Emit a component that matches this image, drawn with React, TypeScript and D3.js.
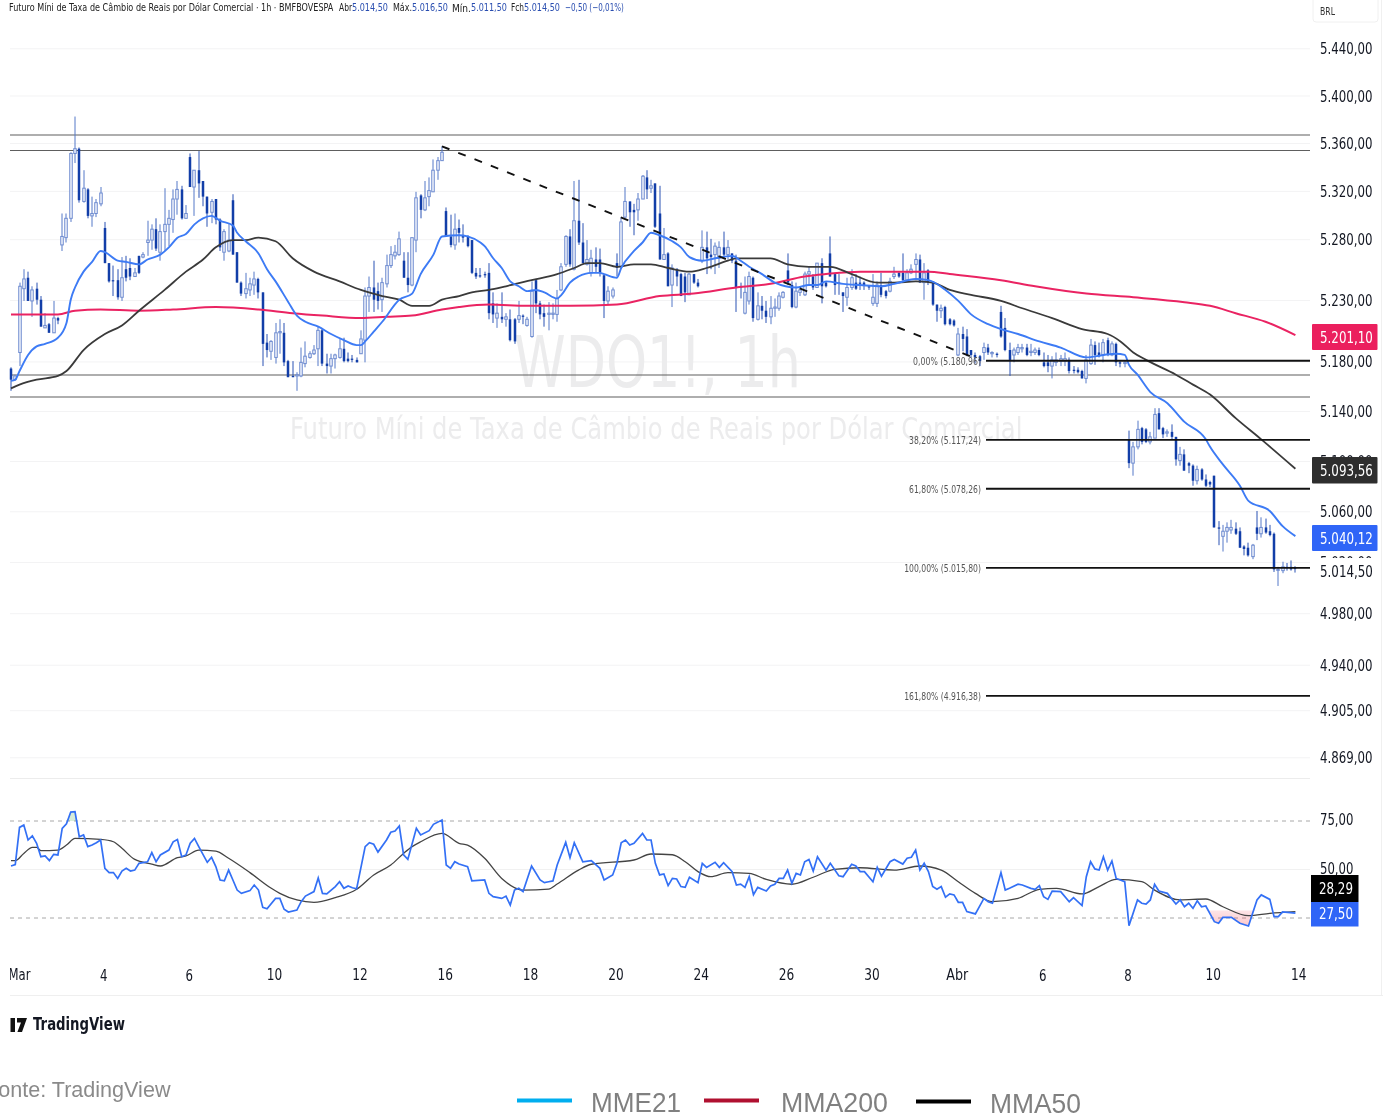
import React from "react";
import * as d3 from "d3";

const HIGHS = [
5175,5169,5244,5255,5253,5241,5244,5233,5219,5211,
5229,5216,5301,5301,5352,5382,5356,5337,5322,5315,
5313,5323,5294,5260,5258,5255,5265,5266,5264,5256,
5266,5269,5295,5292,5297,5292,5322,5304,5321,5328,
5324,5308,5351,5337,5353,5328,5315,5313,5313,5297,
5288,5293,5317,5269,5245,5252,5248,5253,5248,5236,
5202,5197,5211,5214,5211,5181,5180,5171,5191,5196,
5188,5193,5208,5206,5186,5186,5186,5198,5199,5187,
5185,5183,5205,5240,5249,5262,5244,5248,5267,5274,
5275,5286,5269,5269,5281,5319,5317,5328,5331,5346,
5348,5357,5306,5300,5301,5296,
5292,5283,5279,5256,5256,5253,5260,5236,5227,5236,
5219,5222,5215,5229,5218,5216,5245,5247,5229,5226,
5228,5227,5238,5260,5283,5288,5328,5329,5293,5279,
5271,5273,5272,5251,5241,5240,5268,5298,5323,5311,
5309,5318,5333,5337,5329,5326,5324,5289,5269,5259,
5256,5252,5252,5252,5251,5247,5287,5286,5280,5277,
5278,5286,5279,5268,5267,5244,5249,5253,5249,5236,
5233,5229,5233,5231,5236,5237,5268,5245,5244,5241,
5253,5257,5251,5260,5264,5245,5282,5252,5251,5236,
5248,5255,5251,5249,5245,5242,5251,5245,5252,5238,
5248,5257,5253,
5268,5255,5259,5268,5267,5260,5255,5245,5226,5226,
5225,5215,5214,5207,5208,5206,5189,5187,5185,5195,
5194,5188,5187,5225,5215,5195,5191,5194,5194,5194,
5194,5191,5191,5187,5185,5184,5187,5185,5187,5183,
5176,5175,5173,5185,
5198,5196,5195,5198,5199,5196,5195,5180,5180,
5124,5115,5132,5127,5126,5123,5142,5142,5127,5125,
5129,5119,5111,5109,5099,5097,5096,5094,5089,5084,
5088,5052,5049,5051,5053,5051,5047,5033,5035,5034,
5060,5055,5054,5049,5043,5016,5020,5019,5021,5016.5];

const LOWS = [
5156,5164,5176,5229,5229,5216,5226,5208,5207,5203,
5203,5210,5270,5277,5294,5343,5310,5310,5297,5290,
5298,5307,5260,5244,5233,5230,5229,5245,5246,5249,
5251,5264,5266,5271,5270,5262,5270,5274,5285,5300,
5296,5297,5323,5299,5314,5307,5290,5293,5292,5270,
5262,5269,5267,5244,5233,5231,5233,5234,5231,5176,
5183,5181,5178,5186,5176,5167,5167,5156,5167,5175,
5182,5185,5176,5176,5170,5170,5174,5182,5179,5179,
5179,5179,5186,5179,5220,5220,5222,5220,5240,5256,
5263,5266,5248,5236,5241,5269,5297,5303,5307,5319,
5329,5345,5282,5273,5271,5277,
5277,5273,5251,5247,5248,5248,5214,5211,5207,5211,
5208,5196,5194,5211,5210,5208,5199,5219,5214,5208,
5205,5214,5212,5237,5257,5257,5254,5275,5260,5258,
5249,5252,5249,5215,5226,5231,5249,5256,5297,5290,
5283,5295,5313,5313,5318,5289,5263,5263,5241,5224,
5241,5233,5228,5234,5243,5240,5260,5251,5255,5251,
5256,5264,5263,5260,5220,5231,5218,5226,5212,5213,
5214,5211,5210,5216,5221,5231,5242,5223,5223,5233,
5233,5242,5238,5240,5227,5240,5249,5234,5234,5220,
5225,5238,5238,5238,5238,5238,5225,5224,5232,5231,
5236,5247,5248,
5245,5245,5251,5246,5244,5230,5242,5225,5212,5215,
5209,5209,5208,5184,5188,5184,5183,5178,5176,5181,
5185,5183,5183,5199,5188,5168,5179,5185,5187,5184,
5184,5185,5184,5175,5171,5166,5176,5176,5176,5170,
5170,5170,5166,5162,5177,5177,5183,5179,5184,5184,
5176,5175,5175,
5094,5088,5109,5113,5114,5113,5118,5125,5118,5119,
5117,5096,5096,5092,5090,5080,5081,5084,5079,5079,
5047,5033,5028,5035,5042,5041,5031,5025,5024,5022,
5037,5039,5042,5040,5012,5001,5011,5013,5013,5011.5];

const OPENS = [
5174,5165,5187,5239,5248,5229,5239,5230,5207,5210,
5203,5215,5275,5281,5297,5351,5355,5311,5321,5299,
5301,5309,5289,5260,5246,5246,5232,5255,5256,5249,
5266,5265,5277,5279,5288,5269,5286,5292,5296,5313,
5321,5297,5348,5323,5337,5328,5315,5302,5313,5296,
5269,5270,5312,5269,5244,5235,5238,5242,5247,5236,
5195,5188,5183,5203,5203,5180,5168,5168,5168,5178,
5183,5186,5190,5205,5178,5176,5182,5183,5190,5182,
5182,5181,5186,5197,5233,5240,5237,5230,5243,5258,
5266,5267,5262,5248,5242,5279,5316,5304,5315,5319,
5337,5345,5303,5282,5275,5289,
5283,5282,5279,5252,5250,5251,5252,5227,5215,5216,
5214,5214,5214,5214,5217,5209,5200,5246,5227,5219,
5218,5218,5218,5238,5259,5282,5255,5295,5277,5259,
5252,5263,5263,5250,5229,5233,5260,5257,5298,5311,
5304,5304,5313,5331,5322,5326,5301,5263,5268,5242,
5255,5251,5249,5234,5251,5244,5262,5273,5267,5267,
5264,5273,5267,5268,5262,5241,5219,5229,5248,5214,
5225,5221,5216,5223,5223,5232,5254,5242,5224,5236,
5234,5251,5249,5240,5260,5244,5268,5251,5244,5236,
5232,5240,5244,5244,5244,5241,5227,5227,5242,5237,
5237,5249,5252,
5252,5246,5252,5259,5263,5244,5254,5245,5226,5221,
5224,5214,5213,5185,5202,5200,5189,5185,5184,5187,
5191,5186,5186,5220,5207,5189,5185,5187,5190,5191,
5187,5187,5189,5179,5179,5176,5179,5180,5180,5181,
5173,5173,5172,5166,5178,5193,5187,5185,5197,5185,
5194,5179,5178,
5117,5098,5111,5126,5125,5115,5118,5138,5126,5122,
5123,5119,5100,5105,5098,5096,5084,5093,5085,5083,
5088,5047,5040,5044,5045,5046,5044,5032,5031,5024,
5047,5042,5047,5044,5042,5014,5013,5016,5016,5015];

const CLOSES = [
5165,5168,5241,5247,5229,5238,5230,5208,5209,5203,
5215,5213,5282,5297,5351,5355,5312,5322,5299,5301,
5310,5318,5260,5245,5245,5232,5248,5248,5249,5252,
5252,5267,5279,5288,5272,5286,5292,5297,5313,5321,
5297,5301,5323,5337,5326,5315,5301,5311,5296,5273,
5286,5279,5267,5244,5235,5239,5243,5247,5236,5194,
5189,5196,5203,5204,5179,5167,5167,5169,5179,5184,
5186,5189,5205,5178,5176,5182,5185,5190,5180,5180,
5181,5179,5198,5233,5240,5230,5229,5244,5258,5267,
5269,5280,5248,5242,5281,5314,5304,5314,5320,5337,
5345,5352,5282,5275,5288,5285,
5281,5274,5252,5249,5249,5250,5219,5218,5219,5214,
5216,5197,5196,5217,5216,5214,5237,5227,5218,5216,
5219,5219,5231,5257,5282,5259,5295,5277,5260,5263,
5264,5257,5252,5229,5237,5238,5256,5294,5311,5302,
5302,5313,5332,5321,5324,5290,5263,5267,5241,5256,
5249,5233,5236,5251,5244,5241,5273,5264,5265,5274,
5273,5267,5273,5262,5240,5240,5236,5249,5215,5225,
5221,5216,5223,5224,5233,5236,5244,5224,5237,5238,
5251,5253,5240,5260,5241,5241,5249,5242,5243,5233,
5240,5248,5239,5243,5242,5240,5232,5242,5234,5233,
5245,5251,5249,
5246,5252,5255,5263,5244,5252,5244,5226,5221,5223,
5210,5210,5209,5202,5198,5185,5185,5183,5180,5191,
5187,5187,5185,5200,5189,5181,5189,5191,5191,5185,
5188,5189,5185,5176,5176,5181,5181,5182,5182,5172,
5172,5171,5166,5181,5193,5185,5184,5195,5185,5194,
5179,5178,5179,
5098,5111,5125,5115,5115,5119,5137,5125,5121,5123,
5119,5101,5105,5092,5096,5084,5093,5085,5080,5081,
5047,5046,5044,5047,5047,5042,5031,5030,5025,5033,
5042,5047,5043,5041,5014,5014,5016,5015,5014,5014.5];

const EMA_BARS = [0,1,2,4,6,8,11,13,14,15,17,19,21,22,25,27,30,32,35,37,39,41,43,45,47,49,52,53,55,58,60,62,65,67,69,72,75,78,81,82,83,85,87,91,94,96,99,101,105,107,110,111,113,115,117,119,121,123,125,128,129,131,133,136,138,139,142,143,146,148,150,152,155,157,159,162,165,169,171,173,176,179,184,187,189,191,195,199,204,207,212,215,219,222,225,229,232,236,241,246,252,256,259,261,262,264,267,271,275,280,281,284,288,290,295,298,301];
const EMA_VALUES = [5164,5165,5172,5185,5192,5194,5199,5211,5230,5240,5253,5261,5270,5269,5262,5261,5259,5263,5267,5273,5281,5284,5292,5297,5299,5295,5291,5285,5278,5268,5255,5245,5228,5217,5212,5208,5202,5197,5193,5193,5196,5204,5212,5230,5235,5251,5267,5282,5283,5282,5277,5274,5264,5256,5245,5241,5237,5238,5236,5231,5234,5244,5249,5252,5252,5251,5248,5256,5270,5277,5285,5283,5278,5273,5265,5262,5264,5266,5262,5257,5251,5244,5240,5242,5242,5245,5243,5242,5241,5243,5247,5246,5238,5229,5218,5210,5206,5202,5196,5191,5183,5185,5186,5185,5177,5169,5155,5146,5131,5117,5111,5097,5080,5068,5060,5048,5040.12];

const SMA50_BARS = [0,2,6,11,13,17,22,26,30,36,41,45,48,52,55,58,62,66,71,77,82,87,91,94,98,101,105,108,112,116,122,128,132,135,138,142,146,150,154,159,163,168,170,178,182,187,192,197,203,207,212,216,220,225,232,237,244,251,257,260,263,266,273,277,281,287,293,301];
const SMA50_VALUES = [5158,5161,5165,5168,5172,5189,5202,5209,5221,5238,5253,5263,5273,5279,5279,5281,5278,5264,5253,5245,5238,5233,5230,5225,5225,5230,5233,5236,5238,5241,5246,5251,5256,5260,5260,5257,5259,5259,5256,5253,5256,5262,5264,5264,5259,5257,5257,5251,5244,5244,5245,5244,5238,5234,5229,5223,5215,5206,5202,5196,5187,5181,5169,5161,5153,5134,5117,5093.56];

const SMA200_BARS = [0,5,11,15,21,30,38,48,58,66,73,82,88,94,101,105,112,121,131,142,152,160,170,178,186,191,199,207,215,220,232,240,252,263,275,281,287,294,301];
const SMA200_VALUES = [5218,5218,5218,5221,5222,5221,5222,5224,5222,5219,5217,5215,5216,5217,5222,5224,5226,5225,5225,5226,5233,5235,5240,5243,5249,5251,5253,5253,5253,5251,5246,5241,5235,5232,5228,5225,5219,5212,5201.1];

const RSI_BARS = [0,1,2,3,4,5,6,7,8,9,10,11,12,13,14,15,16,17,18,19,20,21,22,23,24,25,26,27,28,29,30,32,33,34,35,37,38,39,40,41,42,43,44,46,47,48,49,50,51,52,53,54,56,57,58,59,60,62,63,64,65,67,68,69,71,72,73,74,76,77,78,79,80,81,83,84,85,86,88,89,90,91,92,93,95,96,98,99,101,102,103,104,105,107,108,111,112,113,115,116,117,118,119,120,122,124,125,126,127,128,130,131,132,134,136,138,139,141,142,143,144,145,146,148,149,150,151,152,153,154,155,156,157,158,159,161,162,163,165,166,167,169,170,171,172,173,174,175,177,178,179,180,181,182,183,184,185,186,187,188,189,191,192,194,195,197,198,199,200,202,203,204,206,207,209,210,211,212,213,214,215,216,217,218,219,220,221,222,223,224,226,228,229,230,232,233,234,236,237,239,240,241,242,243,244,246,248,249,251,252,253,254,255,256,257,258,259,261,262,264,265,266,267,268,269,271,273,274,275,276,277,278,279,280,282,283,284,286,288,290,292,293,295,296,297,298,301];
const RSI_VALUES = [51.8,52.5,71.7,72.9,65.2,67.3,63.5,56.6,57,54.6,57.8,57.5,71.2,73.5,79.6,79.8,66.9,67.8,61.8,62.6,63.8,65.2,50.6,48.4,48.4,45.4,49.2,50.6,49.2,49.7,53.2,54,58.7,54,57.5,60,64.3,65.5,56.6,57.5,63.5,66,61.8,53.7,56.3,51.5,44.6,44.2,49.7,44.6,39.4,37.7,39.1,42,39.4,30.5,29.8,35.1,35.1,29.5,28.1,29.1,33.4,36.3,38.6,45.6,37.7,37.4,41.2,43.7,40.3,41.5,40.6,40.1,61.8,63.8,63,59,65.2,69.2,69.8,72.4,57.5,55.2,71.2,67.8,70,73.3,75.5,52.3,50.6,54,52.8,51.5,44.2,44.6,37.7,36,35.1,36.3,31.7,39.4,40.3,38.6,51.8,44.6,43.2,43.7,44.1,52.3,64,56.1,63.8,54,54.6,50.6,44.6,47.2,53.2,63.8,65.2,62.6,63.5,68.6,65.2,65.2,53.2,47.2,47.7,41.7,45.4,45.1,41.2,40.8,46,43.2,53.2,51.1,53.7,51.1,53.5,48.9,42,42.5,40.8,46.3,37,40.8,38.9,41.5,42.4,45.4,45.4,49.7,42.9,48,47.2,54,55.2,49.2,56.6,49.7,53.2,46.8,46.3,52.7,51.8,48.9,48.9,43.7,51.1,46.6,54,55.2,52.8,55.8,56.3,60,49.7,53.2,48.9,41.2,39.8,41.2,35.7,37.4,36.9,33.1,33.1,28.3,27.1,35.1,33.4,32.6,48.4,39.4,40.3,42.4,42,40.3,39.8,41.7,36,34.6,38.9,38.6,33.4,35.5,31.4,46.3,54,50.3,49.7,56.6,49.7,54.4,45.4,43.7,21,34.3,32.6,32.2,34.3,42.4,38.9,37.7,32.2,34.3,30.8,32.6,30,33.9,30.8,31.2,23.1,22.3,25.3,25.3,22.3,20.9,34.3,36.9,34.6,25.7,25.7,28.1,27.5];

const RSI_MA_BARS = [0,1,3,5,6,7,11,13,15,21,24,26,29,33,35,39,41,44,48,51,56,61,63,67,71,76,81,85,89,92,94,96,101,105,107,111,115,120,126,128,133,136,146,150,155,158,161,164,168,173,177,183,188,193,199,207,213,218,222,226,230,236,241,245,251,255,259,265,268,274,280,284,290,295,301];
const RSI_MA_VALUES = [54.6,54.6,58.3,61.4,61.4,59.7,60,62.6,66,65.5,64.3,60.9,55.2,52.8,51.8,56.1,57,60,59.5,55.8,48.4,40.3,37.7,34.3,33.1,35.5,39.8,47.2,52.3,58.3,61.8,64.3,68.6,63.5,62.6,55.8,45.4,39.4,39.9,42.5,49.7,52.7,54.9,58,57.6,54,48.9,46.3,48.4,48,44.9,42.4,46,50.1,50.9,49.7,51.8,49.7,43.7,37.7,33.4,35.1,39.8,40.3,37.4,41.2,44.9,43.7,39.4,34.3,34.8,30.8,26.2,27.4,28.29];

const PRICE_TICKS = [5440,5400,5360,5320,5280,5230,5180,5140,5100,5060,5020,4980,4940,4905,4869];
const PRICE_TICK_LABELS = ["5.440,00","5.400,00","5.360,00","5.320,00","5.280,00","5.230,00","5.180,00","5.140,00","5.100,00","5.060,00","5.020,00","4.980,00","4.940,00","4.905,00","4.869,00"];
const LEVELS_GRAY = [5366.5,5353.5,5168.8,5151];
const FIB_LEVELS = [5180.96,5117.24,5078.26,5015.8,4916.38];
const FIB_LABELS = ["0,00% (5.180,96)","38,20% (5.117,24)","61,80% (5.078,26)","100,00% (5.015,80)","161,80% (4.916,38)"];
const TIME_BARS = [2,22,42,62,82,102,122,142,162,182,202,222,242,262,282,302];
const TIME_LABELS = ["Mar","4","6","10","12","16","18","20","24","26","30","Abr","6","8","10","14"];
const RSI_TICKS = [75,50];
const RSI_TICK_LABELS = ["75,00","50,00"];

const UI = "'DejaVu Sans', sans-serif";
const ARIAL = "'Liberation Sans', sans-serif";
const X0 = 11, X1 = 1295.4, PLOT_R = 1310;

const x = d3.scaleLinear().domain([0, 301]).range([X0, X1]);
const y = d3.scaleLog().domain([5440, 4869]).range([48, 757]);
const yAxis = y.copy().range([48.8, 757.8]);
const ry = d3.scaleLinear().domain([25, 75]).range([918, 821]);

const measureCtx = document.createElement("canvas").getContext("2d") as CanvasRenderingContext2D;
function natural(text: string, size: number, family: string, weight: string) {
  measureCtx.font = `${weight} ${size}px ${family}`;
  return measureCtx.measureText(text).width || 1;
}

function T({ x: tx, y: ty, w, size = 14, fill = "#131722", anchor = "start", family = UI, weight = "normal", children }: any) {
  const sx = w / natural(String(children), size, family, weight);
  return (
    <text transform={`translate(${tx},${ty}) scale(${sx},1)`} fontSize={size} fill={fill} fontFamily={family}
      fontWeight={weight} textAnchor={anchor} dominantBaseline="central">{children}</text>
  );
}

function zipLine(bars: number[], vals: number[], sy: any, curve: any) {
  const pts = bars.map((b, i) => [b, vals[i]]);
  return d3.line<number[]>().x(d => x(d[0])).y(d => sy(d[1])).curve(curve)(pts) || "";
}

function Candles() {
  const UP = "#6d8bd0", DOWN = "#123ea8";
  return (
    <g>
      {OPENS.map((o, i) => {
        const c = CLOSES[i];
        const up = c >= o;
        const cx = Math.round(x(i));
        const top = y(Math.max(o, c));
        const h = Math.max(1, y(Math.min(o, c)) - top);
        return (
          <g key={i}>
            <line x1={cx} x2={cx} y1={y(HIGHS[i])} y2={y(LOWS[i])} stroke={up ? "#5578c8" : "#2a52b4"} strokeWidth={1} />
            {up
              ? <rect x={cx - 1.25} y={top} width={2.5} height={h} fill="#f4f6fc" stroke={UP} strokeWidth={1} />
              : <rect x={cx - 1.25} y={top} width={2.5} height={h} fill={DOWN} />}
          </g>
        );
      })}
    </g>
  );
}

export default function App() {
  const rsiPts = RSI_BARS.map((b, i) => [b, RSI_VALUES[i]]);
  const areaUp = d3.area<number[]>().x(d => x(d[0])).y0(ry(75)).y1(d => ry(d[1]))(rsiPts) || "";
  const oversold = rsiPts.filter(d => d[0] >= 280 && d[0] <= 292);
  const areaDn = d3.area<number[]>().x(d => x(d[0])).y0(ry(29)).y1(d => ry(d[1]))(oversold) || "";
  const fibSplit = [0, 1, 2, 3, 4];
  return (
    <svg width={1383} height={1118} style={{ position: "absolute", left: 0, top: 0, background: "#fff", filter: "blur(0.4px)" }}>
      <defs>
        <clipPath id="above"><rect x={0} y={790} width={PLOT_R} height={ry(75) - 790} /></clipPath>
        <clipPath id="below"><rect x={0} y={ry(29)} width={PLOT_R} height={60} /></clipPath>
        <clipPath id="timeClip"><rect x={10} y={960} width={1373} height={30} /></clipPath>
        <linearGradient id="pink" x1="0" x2="0" y1="0" y2="1">
          <stop offset="0" stopColor="#f23645" stopOpacity={0.03} />
          <stop offset="1" stopColor="#f23645" stopOpacity={0.28} />
        </linearGradient>
      </defs>

      {/* grid */}
      {PRICE_TICKS.map(t => (
        <line key={t} x1={10} x2={PLOT_R} y1={yAxis(t)} y2={yAxis(t)} stroke="#f3f3f4" strokeWidth={1} />
      ))}

      {/* watermark */}
      <T x={514} y={362} w={287} size={72} fill="#ececed">WDO1!, 1h</T>
      <T x={290} y={428} w={733} size={31} fill="#ececed">Futuro Míni de Taxa de Câmbio de Reais por Dólar Comercial</T>

      {/* horizontal levels */}
      {LEVELS_GRAY.map(l => (
        <line key={l} x1={10} x2={PLOT_R} y1={y(l)} y2={y(l)} stroke="#5e5e5e" strokeWidth={1.1} />
      ))}

      <Candles />

      <path d={zipLine(SMA200_BARS, SMA200_VALUES, y, d3.curveMonotoneX)} fill="none" stroke="#ea2362" strokeWidth={2} />
      <path d={zipLine(SMA50_BARS, SMA50_VALUES, y, d3.curveMonotoneX)} fill="none" stroke="#3a3a3a" strokeWidth={1.8} />
      <path d={zipLine(EMA_BARS, EMA_VALUES, y, d3.curveMonotoneX)} fill="none" stroke="#3d7bf5" strokeWidth={1.9} />

      {/* trend line */}
      <line x1={x(101)} y1={y(5357)} x2={x(227)} y2={y(5180.96)} stroke="#111" strokeWidth={1.9} strokeDasharray="8 9.5" />

      {/* fib */}
      {fibSplit.map(i => (
        <g key={i}>
          <line x1={986} x2={PLOT_R} y1={yAxis(FIB_LEVELS[i])} y2={yAxis(FIB_LEVELS[i])} stroke="#111" strokeWidth={1.9} />
          <T x={981} y={yAxis(FIB_LEVELS[i])} anchor="end" size={10.5} fill="#555"
            w={i === 0 ? 68 : i < 3 ? 72 : 77}>{FIB_LABELS[i]}</T>
        </g>
      ))}

      {/* price axis */}
      {PRICE_TICKS.map((t, i) => (
        <T key={t} x={1320} y={yAxis(t)} w={52.5} size={15}>{PRICE_TICK_LABELS[i]}</T>
      ))}
      <rect x={1313} y={-3} width={65} height={25} rx={3} fill="#fff" stroke="#f0f0f0" />
      <T x={1320} y={11} w={15} size={10.5} fill="#333">BRL</T>

      <rect x={1312} y={324} width={65.5} height={26} rx={1} fill="#eb1f5e" />
      <T x={1320} y={337} w={53} size={15} fill="#fff">5.201,10</T>
      <rect x={1312} y={457} width={65.5} height={26.5} rx={1} fill="#2e2e2e" />
      <T x={1320} y={470} w={53} size={15} fill="#fff">5.093,56</T>
      <rect x={1312} y={525} width={65.5} height={26} rx={1} fill="#2f65f7" />
      <T x={1320} y={538} w={53} size={15} fill="#fff">5.040,12</T>
      <rect x={1312} y={558} width={65.5} height={24} fill="#fff" />
      <T x={1320} y={571} w={53} size={15}>5.014,50</T>

      {/* pane separator */}
      <line x1={10} x2={1310} y1={778.5} y2={778.5} stroke="#ececec" />
      <line x1={10} x2={1383} y1={995.5} y2={995.5} stroke="#efefef" />
      <line x1={1381.5} x2={1381.5} y1={0} y2={995} stroke="#f0f0f0" />

      {/* RSI pane */}
      <line x1={10} x2={PLOT_R} y1={ry(75)} y2={ry(75)} stroke="#a8a8a8" strokeDasharray="4 4" />
      <line x1={10} x2={PLOT_R} y1={ry(50)} y2={ry(50)} stroke="#f1f1f1" />
      <line x1={10} x2={PLOT_R} y1={ry(25)} y2={ry(25)} stroke="#a8a8a8" strokeDasharray="4 4" />
      <path d={areaUp} fill="#4caf50" fillOpacity={0.22} clipPath="url(#above)" />
      <path d={areaDn} fill="url(#pink)" clipPath="url(#below)" />
      <path d={zipLine(RSI_MA_BARS, RSI_MA_VALUES, ry, d3.curveMonotoneX)} fill="none" stroke="#444" strokeWidth={1.3} />
      <path d={zipLine(RSI_BARS, RSI_VALUES, ry, d3.curveLinear)} fill="none" stroke="#3370f5" strokeWidth={1.7} />
      {RSI_TICKS.map((t, i) => (
        <T key={t} x={1320} y={ry(t) - 1} w={33.5} size={15}>{RSI_TICK_LABELS[i]}</T>
      ))}
      <rect x={1311} y={875} width={47.5} height={27} fill="#000" />
      <T x={1319} y={888.5} w={34} size={15} fill="#fff">28,29</T>
      <rect x={1311} y={902} width={47.5} height={24.5} fill="#2f65f7" />
      <T x={1319} y={913.5} w={34} size={15} fill="#fff">27,50</T>

      {/* time axis */}
      <g clipPath="url(#timeClip)">
        {TIME_BARS.map((b, i) => {
          const lab = TIME_LABELS[i];
          const wide = lab.length === 3;
          const two = lab.length === 2;
          return <T key={b} x={x(b) - (lab === "Mar" ? 0 : 1)} y={975} anchor="middle" size={15} w={wide ? 22 : two ? 15.5 : 7.5}>{lab}</T>;
        })}
      </g>

      {/* header */}
      <T x={9} y={8} w={325} size={10} fill="#222">Futuro Míni de Taxa de Câmbio de Reais por Dólar Comercial · 1h · BMFBOVESPA</T>
      <T x={339} y={8} w={13} size={10} fill="#222">Abr</T>
      <T x={352} y={8} w={36} size={10} fill="#2a4eb0">5.014,50</T>
      <T x={393} y={8} w={19} size={10} fill="#222">Máx.</T>
      <T x={412} y={8} w={36} size={10} fill="#2a4eb0">5.016,50</T>
      <T x={452} y={8} w={19} size={10} fill="#222">Mín.</T>
      <T x={471} y={8} w={36} size={10} fill="#2a4eb0">5.011,50</T>
      <T x={511} y={8} w={13} size={10} fill="#222">Fch</T>
      <T x={524} y={8} w={36} size={10} fill="#2a4eb0">5.014,50</T>
      <T x={565} y={8} w={59} size={10} fill="#2a4eb0">−0,50 (−0,01%)</T>

      {/* logo */}
      <path d="M10.5 1018h4.5v14h-4.5z M17 1018h10l-5 14h-4.6l3.6-9.5h-4z" fill="#111" />
      <T x={33} y={1024} w={92} size={18} fill="#131722" weight="bold">TradingView</T>

      {/* source and legend */}
      <T x={-15} y={1089} w={186} size={22} fill="#8a8a8a" family={ARIAL}>Fonte: TradingView</T>
      <rect x={517} y={1098.5} width={55} height={4} fill="#00aeef" />
      <T x={591} y={1102} w={90} size={28} fill="#808080" family={ARIAL}>MME21</T>
      <rect x={704} y={1098.5} width={55} height={4} fill="#b01030" />
      <T x={781} y={1102} w={107} size={28} fill="#808080" family={ARIAL}>MMA200</T>
      <rect x={916} y={1099.5} width={55} height={4} fill="#000" />
      <T x={990} y={1103} w={91} size={28} fill="#808080" family={ARIAL}>MMA50</T>
    </svg>
  );
}
